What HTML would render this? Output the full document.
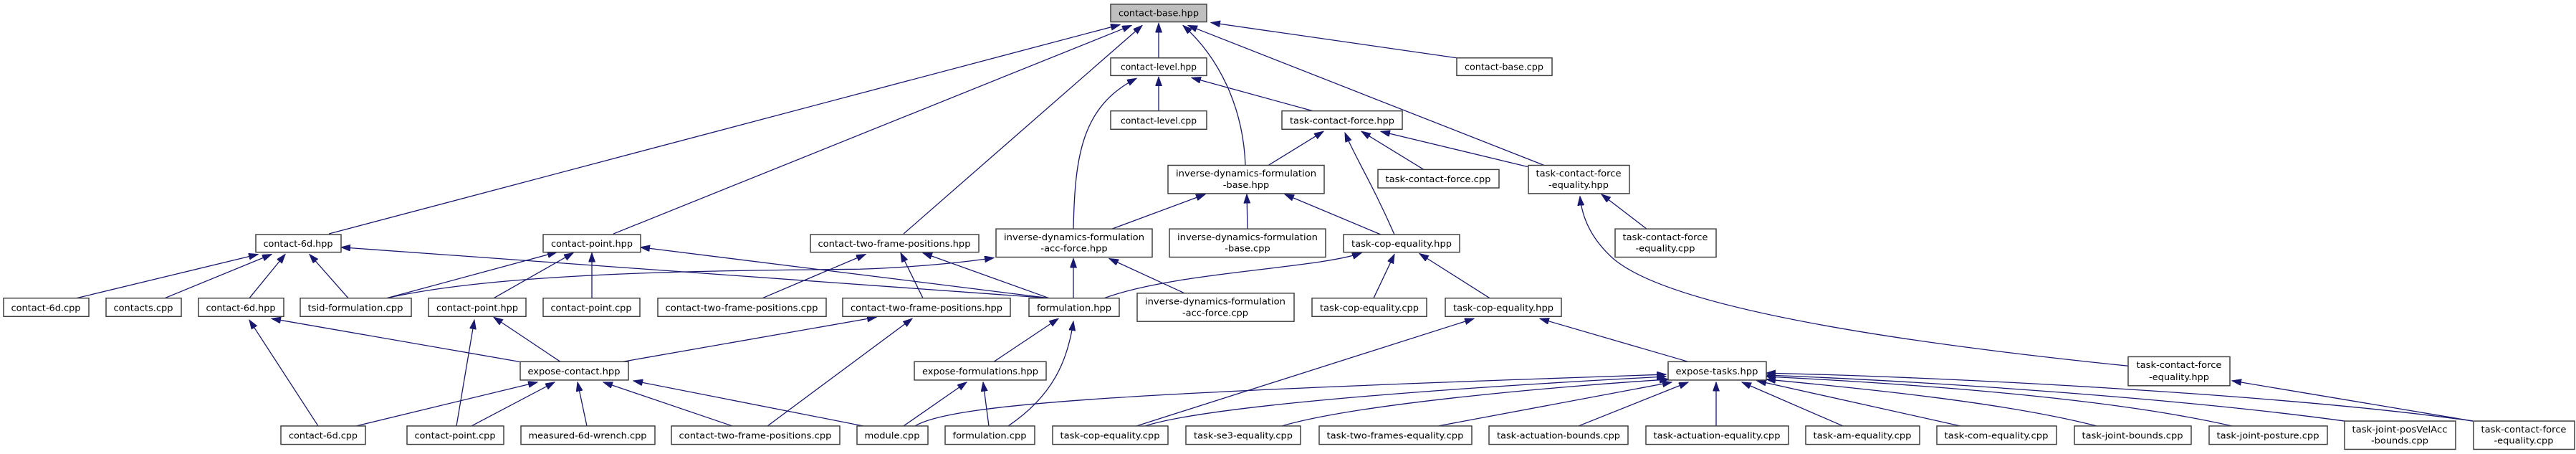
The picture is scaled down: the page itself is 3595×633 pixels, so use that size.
<!DOCTYPE html>
<html><head><meta charset="utf-8"><style>
html,body{margin:0;padding:0;background:#fff;}
svg{display:block;}
text{font-family:"DejaVu Sans","Liberation Sans",sans-serif;font-size:13px;fill:#000;text-anchor:middle;}
rect{fill:#fff;stroke:#404040;stroke-width:1.5;}
path.e{fill:none;stroke:#191970;stroke-width:1.3;}
</style></head><body>
<svg width="3595" height="633" viewBox="0 0 3595 633" xmlns="http://www.w3.org/2000/svg">
<defs>
<marker id="a" markerUnits="userSpaceOnUse" markerWidth="14" markerHeight="10" refX="13" refY="4.5" orient="auto">
<path d="M0,0 L13,4.5 L0,9 z" fill="#191970" stroke="#191970"/>
</marker>
</defs>
<g transform="scale(1,0.985)">
<!-- edges -->
<g>
<path class="e" marker-end="url(#a)" d="M459,331 L1563,35"/>
<path class="e" marker-end="url(#a)" d="M856,331 L1579,36"/>
<path class="e" marker-end="url(#a)" d="M1261,331 L1594,36"/>
<path class="e" marker-end="url(#a)" d="M1617,82 L1617,33"/>
<path class="e" marker-end="url(#a)" d="M1738,234 C1735,150 1700,80 1651,36"/>
<path class="e" marker-end="url(#a)" d="M2155,234 L1658,36"/>
<path class="e" marker-end="url(#a)" d="M2033,82 L1690,32"/>
<path class="e" marker-end="url(#a)" d="M1617,157 L1617,109"/>
<path class="e" marker-end="url(#a)" d="M1832,157 L1663,110"/>
<path class="e" marker-end="url(#a)" d="M1498,324 C1500,220 1510,150 1586,111"/>
<path class="e" marker-end="url(#a)" d="M1770,234 L1847,186"/>
<path class="e" marker-end="url(#a)" d="M1987,240 L1900,186"/>
<path class="e" marker-end="url(#a)" d="M2132,236 L1927,186"/>
<path class="e" marker-end="url(#a)" d="M1946,332 C1915,260 1890,220 1877,188"/>
<path class="e" marker-end="url(#a)" d="M1552,324 L1682,275"/>
<path class="e" marker-end="url(#a)" d="M1741,324 L1740,275"/>
<path class="e" marker-end="url(#a)" d="M1927,332 L1793,275"/>
<path class="e" marker-end="url(#a)" d="M2298,324 L2235,275"/>
<path class="e" marker-end="url(#a)" d="M2970,518 C2700,490 2320,440 2245,360 C2215,330 2207,300 2205,278"/>
<path class="e" marker-end="url(#a)" d="M1498,422 L1498,366"/>
<path class="e" marker-end="url(#a)" d="M1653,415 L1548,366"/>
<path class="e" marker-end="url(#a)" d="M540,422 C700,385 1000,383 1200,381 C1280,378 1340,372 1387,365"/>
<path class="e" marker-end="url(#a)" d="M1541,422 C1640,385 1840,380 1900,358"/>
<path class="e" marker-end="url(#a)" d="M1917,422 L1946,360"/>
<path class="e" marker-end="url(#a)" d="M2079,422 L1981,359"/>
<path class="e" marker-end="url(#a)" d="M107,422 L360,360"/>
<path class="e" marker-end="url(#a)" d="M230,422 L379,360"/>
<path class="e" marker-end="url(#a)" d="M348,422 L398,360"/>
<path class="e" marker-end="url(#a)" d="M486,422 L432,360"/>
<path class="e" marker-end="url(#a)" d="M1464,422 L476,350"/>
<path class="e" marker-end="url(#a)" d="M540,422 L777,357"/>
<path class="e" marker-end="url(#a)" d="M689,422 L800,358"/>
<path class="e" marker-end="url(#a)" d="M826,422 L826,358"/>
<path class="e" marker-end="url(#a)" d="M1464,422 L894,350"/>
<path class="e" marker-end="url(#a)" d="M1064,422 L1208,360"/>
<path class="e" marker-end="url(#a)" d="M1288,422 L1257,358"/>
<path class="e" marker-end="url(#a)" d="M1464,422 L1288,358"/>
<path class="e" marker-end="url(#a)" d="M1387,512 L1477,451"/>
<path class="e" marker-end="url(#a)" d="M1407,603 C1470,560 1490,510 1498,455"/>
<path class="e" marker-end="url(#a)" d="M869,512 L1223,449"/>
<path class="e" marker-end="url(#a)" d="M1071,603 L1273,451"/>
<path class="e" marker-end="url(#a)" d="M725,512 L379,451"/>
<path class="e" marker-end="url(#a)" d="M444,603 L348,453"/>
<path class="e" marker-end="url(#a)" d="M782,512 L689,449"/>
<path class="e" marker-end="url(#a)" d="M637,603 L662,453"/>
<path class="e" marker-end="url(#a)" d="M497,603 L750,541"/>
<path class="e" marker-end="url(#a)" d="M658,603 L774,541"/>
<path class="e" marker-end="url(#a)" d="M819,603 L806,541"/>
<path class="e" marker-end="url(#a)" d="M1022,603 L842,541"/>
<path class="e" marker-end="url(#a)" d="M1205,603 L884,539"/>
<path class="e" marker-end="url(#a)" d="M1261,603 L1349,541"/>
<path class="e" marker-end="url(#a)" d="M1380,603 L1372,541"/>
<path class="e" marker-end="url(#a)" d="M1586,603 L2057,451"/>
<path class="e" marker-end="url(#a)" d="M2356,512 L2149,451"/>
<path class="e" marker-end="url(#a)" d="M1277,603 C1330,570 1600,555 2325,530"/>
<path class="e" marker-end="url(#a)" d="M1598,603 C1700,570 2100,545 2325,533"/>
<path class="e" marker-end="url(#a)" d="M1789,603 C1900,570 2200,545 2329,537"/>
<path class="e" marker-end="url(#a)" d="M2007,603 L2333,541"/>
<path class="e" marker-end="url(#a)" d="M2203,603 L2356,541"/>
<path class="e" marker-end="url(#a)" d="M2395,603 L2395,541"/>
<path class="e" marker-end="url(#a)" d="M2572,603 L2431,541"/>
<path class="e" marker-end="url(#a)" d="M2736,603 L2452,539"/>
<path class="e" marker-end="url(#a)" d="M2926,603 C2800,570 2600,550 2465,537"/>
<path class="e" marker-end="url(#a)" d="M3115,603 C2950,565 2700,545 2465,533"/>
<path class="e" marker-end="url(#a)" d="M3272,596 C3050,565 2700,540 2465,531"/>
<path class="e" marker-end="url(#a)" d="M3451,596 C3200,560 2750,535 2465,528"/>
<path class="e" marker-end="url(#a)" d="M3451,596 L3115,539"/>
</g>
<!-- nodes -->
<g>
<rect x="1550" y="6" width="134" height="25" style="fill:#bfbfbf"/><text x="1617" y="23" textLength="112" lengthAdjust="spacingAndGlyphs">contact-base.hpp</text>
<rect x="1550" y="82" width="134" height="25"/><text x="1617" y="99" textLength="106" lengthAdjust="spacingAndGlyphs">contact-level.hpp</text>
<rect x="2033" y="82" width="133" height="25"/><text x="2099" y="99" textLength="110" lengthAdjust="spacingAndGlyphs">contact-base.cpp</text>
<rect x="1550" y="157" width="134" height="26"/><text x="1617" y="175" textLength="106" lengthAdjust="spacingAndGlyphs">contact-level.cpp</text>
<rect x="1789" y="157" width="168" height="26"/><text x="1873" y="175" textLength="146" lengthAdjust="spacingAndGlyphs">task-contact-force.hpp</text>
<rect x="1630" y="234" width="218" height="40"/><text x="1739" y="250" textLength="196" lengthAdjust="spacingAndGlyphs">inverse-dynamics-formulation</text><text x="1739" y="266">-base.hpp</text>
<rect x="1923" y="240" width="169" height="26"/><text x="2007" y="258" textLength="147" lengthAdjust="spacingAndGlyphs">task-contact-force.cpp</text>
<rect x="2133" y="234" width="141" height="40"/><text x="2203" y="250" textLength="119" lengthAdjust="spacingAndGlyphs">task-contact-force</text><text x="2203" y="266">-equality.hpp</text>
<rect x="1390" y="324" width="218" height="40"/><text x="1499" y="340" textLength="196" lengthAdjust="spacingAndGlyphs">inverse-dynamics-formulation</text><text x="1499" y="356">-acc-force.hpp</text>
<rect x="1632" y="324" width="218" height="40"/><text x="1741" y="340" textLength="196" lengthAdjust="spacingAndGlyphs">inverse-dynamics-formulation</text><text x="1741" y="356">-base.cpp</text>
<rect x="1875" y="332" width="162" height="25"/><text x="1956" y="349" textLength="140" lengthAdjust="spacingAndGlyphs">task-cop-equality.hpp</text>
<rect x="2254" y="324" width="141" height="40"/><text x="2324" y="340" textLength="119" lengthAdjust="spacingAndGlyphs">task-contact-force</text><text x="2324" y="356">-equality.cpp</text>
<rect x="357" y="332" width="119" height="25"/><text x="416" y="349" textLength="97" lengthAdjust="spacingAndGlyphs">contact-6d.hpp</text>
<rect x="758" y="332" width="136" height="25"/><text x="826" y="349" textLength="114" lengthAdjust="spacingAndGlyphs">contact-point.hpp</text>
<rect x="1131" y="332" width="235" height="25"/><text x="1248" y="349" textLength="213" lengthAdjust="spacingAndGlyphs">contact-two-frame-positions.hpp</text>
<rect x="5" y="422" width="119" height="26"/><text x="64" y="440" textLength="97" lengthAdjust="spacingAndGlyphs">contact-6d.cpp</text>
<rect x="148" y="422" width="105" height="26"/><text x="200" y="440" textLength="83" lengthAdjust="spacingAndGlyphs">contacts.cpp</text>
<rect x="277" y="422" width="119" height="26"/><text x="336" y="440" textLength="97" lengthAdjust="spacingAndGlyphs">contact-6d.hpp</text>
<rect x="419" y="422" width="155" height="26"/><text x="496" y="440" textLength="133" lengthAdjust="spacingAndGlyphs">tsid-formulation.cpp</text>
<rect x="598" y="422" width="136" height="26"/><text x="666" y="440" textLength="114" lengthAdjust="spacingAndGlyphs">contact-point.hpp</text>
<rect x="758" y="422" width="135" height="26"/><text x="825" y="440" textLength="113" lengthAdjust="spacingAndGlyphs">contact-point.cpp</text>
<rect x="918" y="422" width="235" height="26"/><text x="1035" y="440" textLength="213" lengthAdjust="spacingAndGlyphs">contact-two-frame-positions.cpp</text>
<rect x="1176" y="422" width="234" height="26"/><text x="1293" y="440" textLength="212" lengthAdjust="spacingAndGlyphs">contact-two-frame-positions.hpp</text>
<rect x="1436" y="422" width="126" height="26"/><text x="1499" y="440" textLength="104" lengthAdjust="spacingAndGlyphs">formulation.hpp</text>
<rect x="1587" y="415" width="219" height="40"/><text x="1696" y="431" textLength="196" lengthAdjust="spacingAndGlyphs">inverse-dynamics-formulation</text><text x="1696" y="447">-acc-force.cpp</text>
<rect x="1831" y="422" width="160" height="26"/><text x="1911" y="440" textLength="138" lengthAdjust="spacingAndGlyphs">task-cop-equality.cpp</text>
<rect x="2017" y="422" width="162" height="26"/><text x="2098" y="440" textLength="140" lengthAdjust="spacingAndGlyphs">task-cop-equality.hpp</text>
<rect x="726" y="512" width="151" height="26"/><text x="801" y="530" textLength="129" lengthAdjust="spacingAndGlyphs">expose-contact.hpp</text>
<rect x="1276" y="512" width="184" height="26"/><text x="1368" y="530" textLength="162" lengthAdjust="spacingAndGlyphs">expose-formulations.hpp</text>
<rect x="2328" y="512" width="137" height="26"/><text x="2396" y="530" textLength="115" lengthAdjust="spacingAndGlyphs">expose-tasks.hpp</text>
<rect x="2970" y="505" width="142" height="41"/><text x="3041" y="521" textLength="119" lengthAdjust="spacingAndGlyphs">task-contact-force</text><text x="3041" y="538">-equality.hpp</text>
<rect x="392" y="603" width="118" height="26"/><text x="451" y="621" textLength="96" lengthAdjust="spacingAndGlyphs">contact-6d.cpp</text>
<rect x="568" y="603" width="135" height="26"/><text x="635" y="621" textLength="113" lengthAdjust="spacingAndGlyphs">contact-point.cpp</text>
<rect x="727" y="603" width="187" height="26"/><text x="820" y="621" textLength="165" lengthAdjust="spacingAndGlyphs">measured-6d-wrench.cpp</text>
<rect x="937" y="603" width="235" height="26"/><text x="1054" y="621" textLength="213" lengthAdjust="spacingAndGlyphs">contact-two-frame-positions.cpp</text>
<rect x="1196" y="603" width="99" height="26"/><text x="1245" y="621" textLength="77" lengthAdjust="spacingAndGlyphs">module.cpp</text>
<rect x="1319" y="603" width="125" height="26"/><text x="1381" y="621" textLength="103" lengthAdjust="spacingAndGlyphs">formulation.cpp</text>
<rect x="1469" y="603" width="161" height="26"/><text x="1549" y="621" textLength="139" lengthAdjust="spacingAndGlyphs">task-cop-equality.cpp</text>
<rect x="1655" y="603" width="160" height="26"/><text x="1735" y="621" textLength="138" lengthAdjust="spacingAndGlyphs">task-se3-equality.cpp</text>
<rect x="1841" y="603" width="213" height="26"/><text x="1947" y="621" textLength="191" lengthAdjust="spacingAndGlyphs">task-two-frames-equality.cpp</text>
<rect x="2078" y="603" width="194" height="26"/><text x="2175" y="621" textLength="172" lengthAdjust="spacingAndGlyphs">task-actuation-bounds.cpp</text>
<rect x="2297" y="603" width="199" height="26"/><text x="2396" y="621" textLength="177" lengthAdjust="spacingAndGlyphs">task-actuation-equality.cpp</text>
<rect x="2520" y="603" width="159" height="26"/><text x="2599" y="621" textLength="137" lengthAdjust="spacingAndGlyphs">task-am-equality.cpp</text>
<rect x="2703" y="603" width="167" height="26"/><text x="2786" y="621" textLength="145" lengthAdjust="spacingAndGlyphs">task-com-equality.cpp</text>
<rect x="2895" y="603" width="163" height="26"/><text x="2976" y="621" textLength="141" lengthAdjust="spacingAndGlyphs">task-joint-bounds.cpp</text>
<rect x="3083" y="603" width="165" height="26"/><text x="3165" y="621" textLength="143" lengthAdjust="spacingAndGlyphs">task-joint-posture.cpp</text>
<rect x="3272" y="596" width="155" height="40"/><text x="3349" y="612" textLength="133" lengthAdjust="spacingAndGlyphs">task-joint-posVelAcc</text><text x="3349" y="628">-bounds.cpp</text>
<rect x="3452" y="596" width="141" height="40"/><text x="3522" y="612" textLength="119" lengthAdjust="spacingAndGlyphs">task-contact-force</text><text x="3522" y="628">-equality.cpp</text>
</g>
</g>
</svg>
</body></html>
